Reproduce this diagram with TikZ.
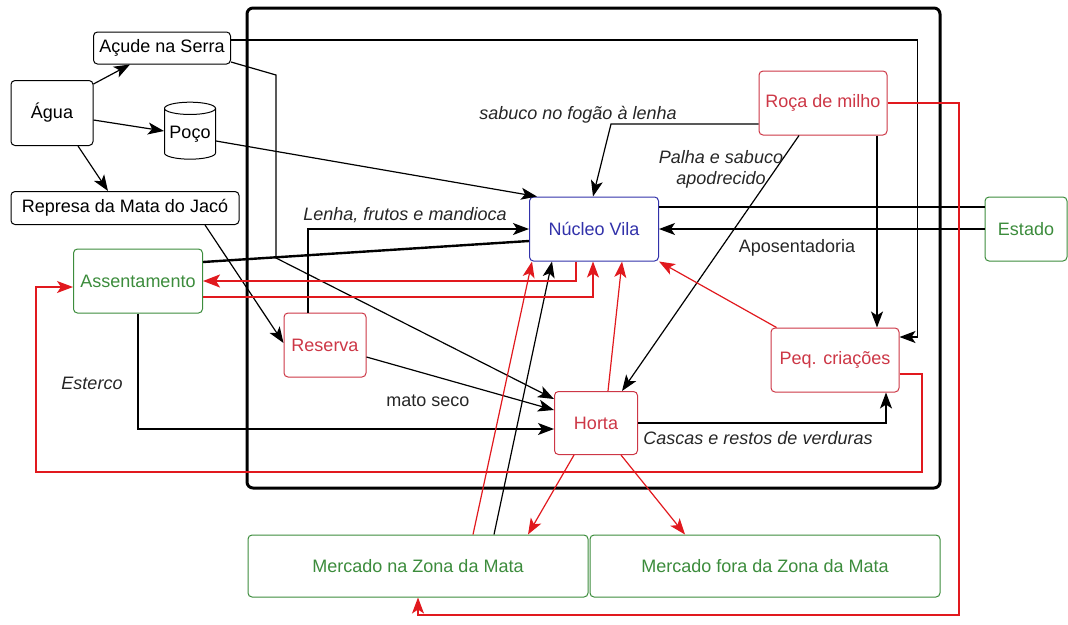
\documentclass[tikz,border=0pt]{standalone}
\usepackage{fontspec}
\setmainfont{Liberation Sans}
\usetikzlibrary{arrows.meta,calc,shapes.geometric}
\definecolor{nodered}{RGB}{205,55,70}
\definecolor{linered}{RGB}{225,25,30}
\definecolor{ngreen}{RGB}{60,140,60}
\definecolor{nblue}{RGB}{50,50,170}
\begin{document}
\begin{tikzpicture}[x=1pt,y=-1pt,
  font=\fontsize{18}{21}\selectfont,
  box/.style={draw, rounded corners=4pt, fill=white, inner sep=2pt, align=center, line width=1pt},
  sz/.style 2 args={minimum width=#1pt, minimum height=#2pt},
  kbox/.style={box, draw=black},
  rbox/.style={box, draw=nodered, text=nodered},
  gbox/.style={box, draw=ngreen, text=ngreen},
  bbox/.style={box, draw=nblue, text=nblue},
  tip/.style={-{Stealth[length=16pt,width=12pt,inset=4pt]}},
  arr/.style={draw=black, line width=1.2pt, tip},
  rarr/.style={draw=linered, line width=1.2pt, tip},
  kthick/.style={draw=black, line width=2.4pt},
  ilab/.style={font=\fontsize{18}{21}\selectfont\itshape, text=black!85, inner sep=0pt, align=center},
  ulab/.style={text=black!85, inner sep=0pt}
]
\useasboundingbox (0,0) rectangle (1068,624);
% big frame
\draw[line width=3pt, rounded corners=6pt] (247,8) rectangle (940,488);

% nodes
\node[kbox, sz={82}{65}] (agua) at (52,113) {Água};
\node[kbox, sz={137}{32}] (acude) at (162,48) {Açude na Serra};
\node[cylinder, shape border rotate=90, draw, fill=white, line width=1pt, aspect=0.3,
      minimum width=51pt, minimum height=57pt, inner sep=0pt] (poco) at (190,134) {Poço};
\node[kbox, sz={228}{33}] (represa) at (125,208) {Represa da Mata do Jacó};
\node[gbox, sz={129}{64}] (assent) at (138,281) {Assentamento};
\node[rbox, sz={82}{64}] (reserva) at (325,345) {Reserva};
\node[bbox, sz={129}{64}] (nv) at (594,229) {Núcleo Vila};
\node[rbox, sz={128}{64}] (roca) at (823,103) {Roça de milho};
\node[gbox, sz={82}{64}] (estado) at (1026,229) {Estado};
\node[rbox, sz={128}{64}] (peq) at (835,360) {Peq. criações};
\node[rbox, sz={83}{63}] (horta) at (596,423) {Horta};
\node[gbox, sz={340}{62}] (merc1) at (418,566) {Mercado na Zona da Mata};
\node[gbox, sz={350}{62}] (merc2) at (765,566) {Mercado fora da Zona da Mata};

% black connectors
\draw[arr] ($(agua.north east)+(0,4)$) -- ($(acude.south)+(-32,0)$);
\draw[arr] ($(agua.east)+(0,7)$) -- ($(poco.west)+(0,-3)$);
\draw[arr] ($(agua.south)+(26,0)$) -- ($(represa.north)+(-17,0)$);
\draw[arr] ($(acude.east)+(0,-8)$) -| ($(peq.east)+(18,-23)$) -- ($(peq.east)+(0,-23)$);
\draw[arr] ($(acude.east)+(0,14)$) -- (276,75) -- (276,258) -- ($(horta.west)+(0,-24)$);
\draw[arr] ($(poco.east)+(0,7)$) -- ($(nv.north west)+(8,0)$);
\draw[arr] ($(represa.south)+(80,0)$) -- ($(reserva.west)+(0,-2)$);
\draw[arr] ($(reserva.north)+(-17,0)$) |- (nv.west);
\draw[kthick] ($(estado.west)+(0,-22)$) -- ($(nv.east)+(0,-22)$);
\draw[kthick] ($(nv.west)+(0,12)$) -- ($(assent.east)+(0,-19)$);
\draw[arr] (estado.west) -- (nv.east);
\draw[arr] ($(roca.west)+(0,21)$) -- (611,124) -- ($(nv.north)+(-1,0)$);
\draw[arr] ($(roca.south)+(-24,0)$) -- ($(horta.north east)+(-16,0)$);
\draw[arr] ($(roca.south)+(54,0)$) -- ($(peq.north)+(42,0)$);
\draw[arr] (horta.east) -| ($(peq.south)+(51,0)$);
\draw[arr] (assent.south) |- ($(horta.west)+(0,6)$);
\draw[arr] ($(reserva.east)+(0,12)$) -- ($(horta.west)+(0,-13)$);
\draw[arr] ($(merc1.north)+(76,0)$) -- ($(nv.south west)+(23,0)$);

% red connectors
\draw[rarr] (roca.east) -| (959,615) -| (merc1.south);
\draw[rarr] ($(peq.north west)+(6,0)$) -- (nv.south east);
\draw[rarr] ($(peq.east)+(0,14)$) -| (922,472) -| (36,287) -- ($(assent.west)+(0,6)$);
\draw[rarr] ($(horta.south)+(-22,0)$) -- ($(merc1.north)+(110,0)$);
\draw[rarr] ($(horta.south)+(25,0)$) -- ($(merc2.north)+(-80,0)$);
\draw[rarr] ($(merc1.north)+(55,0)$) -- ($(nv.south west)+(3,0)$);
\draw[rarr] ($(horta.north)+(12,0)$) -- ($(nv.south)+(28,0)$);
\draw[rarr, line width=2.4pt, -{Stealth[length=17pt,width=13pt,inset=4pt]}] ($(nv.south)+(-18,0)$) |- (assent.east);
\draw[rarr] ($(assent.east)+(0,16)$) -| ($(nv.south)+(-1,0)$);

% labels
\node[ilab] (l1) at (405,215) {Lenha, frutos e mandioca};
\node[ilab] (l2) at (578,115) {sabuco no fogão à lenha};
\node[ilab] (l3) at (721,169) {Palha e sabuco\\apodrecido};
\node[ulab] (l4) at (797,248) {Aposentadoria};
\node[ilab] (l5) at (758,438) {Cascas e restos de verduras};
\node[ilab] (l6) at (92,383) {Esterco};
\node[ulab] (l7) at (428,401) {mato seco};
\end{tikzpicture}
\end{document}
